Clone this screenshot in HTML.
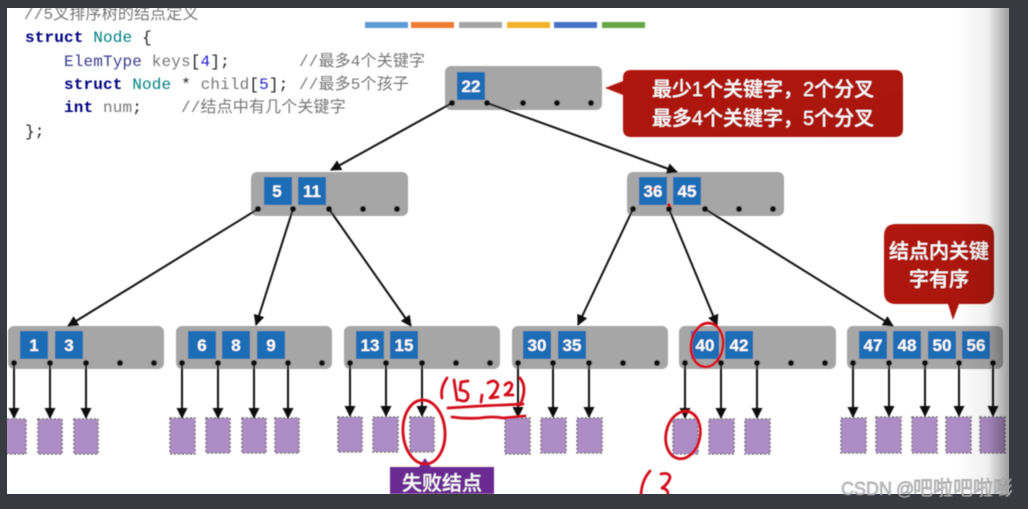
<!DOCTYPE html>
<html><head><meta charset="utf-8"><style>
html,body{margin:0;padding:0;background:#373b40;width:1028px;height:509px;overflow:hidden}
svg{display:block}
.k{font:bold 17px "Liberation Sans",sans-serif;fill:#fff;text-anchor:middle}
.c{font:16px "Liberation Mono","Noto Sans CJK SC",monospace;fill:#777;letter-spacing:.15px}
.b{fill:#000080;font-weight:bold}.t{fill:#008080}.e{fill:#3a3a8c}.d{fill:#222}.n{fill:#2222cc}
.w{font:500 20px "Liberation Sans","Noto Sans CJK SC",sans-serif;fill:#fff;text-anchor:middle}
.g{fill:#a6a6a6}.q{fill:#1b6db5}
.f{fill:#ae8dc6;stroke:#777;stroke-width:1.6;stroke-dasharray:2 2}
.a{stroke:#111;stroke-width:2;fill:none;marker-end:url(#m)}
.h{fill:none;stroke:#d3101a;stroke-width:2.8;stroke-linecap:round;stroke-linejoin:round}
</style></head><body>
<svg width="1028" height="509" viewBox="0 0 1028 509" xmlns="http://www.w3.org/2000/svg">
<defs>
<filter id="bl" x="-2%" y="-2%" width="104%" height="104%"><feGaussianBlur stdDeviation="0.55"/></filter>
<marker id="m" markerUnits="userSpaceOnUse" markerWidth="12" markerHeight="12" refX="10" refY="5.5" orient="auto"><path d="M0 0L11 5.5L0 11Z" fill="#111"/></marker>
<linearGradient id="sh" x1="0" x2="1" y1="0" y2="0"><stop offset="0" stop-color="#000" stop-opacity="0"/><stop offset=".6" stop-color="#000" stop-opacity=".06"/><stop offset="1" stop-color="#000" stop-opacity=".38"/></linearGradient>
<linearGradient id="red" x1="0" x2="1" y1="0" y2="1"><stop offset="0" stop-color="#b01a0a"/><stop offset="1" stop-color="#a8140a"/></linearGradient>
<clipPath id="pg"><rect x="7" y="8" width="1002" height="486"/></clipPath>
</defs>
<rect width="1028" height="509" fill="#373b40"/>
<g clip-path="url(#pg)">
<rect x="7" y="8" width="1002" height="486" fill="#fff"/>
<g filter="url(#bl)">
<!-- top bars -->
<rect x="365" y="22" width="43" height="6" fill="#5b9bd5"/>
<rect x="411" y="22" width="43" height="6" fill="#ed7d31"/>
<rect x="459" y="22" width="43" height="6" fill="#a5a5a5"/>
<rect x="507" y="22" width="43" height="6" fill="#f2b32a"/>
<rect x="554" y="22" width="43" height="6" fill="#4472c4"/>
<rect x="602" y="22" width="43" height="6" fill="#63a845"/>
<!-- code -->
<text class="c" x="24" y="19" xml:space="preserve" font-style="italic">//5叉排序树的结点定义</text>
<text class="c" x="25" y="42" xml:space="preserve"><tspan class="b">struct</tspan> <tspan class="t">Node</tspan> <tspan class="d">{</tspan></text>
<text class="c" x="64" y="66" xml:space="preserve"><tspan class="e">ElemType</tspan> keys<tspan class="d">[</tspan><tspan class="n">4</tspan><tspan class="d">];</tspan></text>
<text class="c" x="299" y="66" xml:space="preserve">//最多4个关键字</text>
<text class="c" x="64" y="89" xml:space="preserve"><tspan class="b">struct</tspan> <tspan class="t">Node</tspan> <tspan class="d">*</tspan> child<tspan class="d">[</tspan><tspan class="n">5</tspan><tspan class="d">];</tspan></text>
<text class="c" x="299" y="89" xml:space="preserve">//最多5个孩子</text>
<text class="c" x="64" y="112" xml:space="preserve"><tspan class="b">int</tspan> num<tspan class="d">;</tspan></text>
<text class="c" x="181" y="112" xml:space="preserve">//结点中有几个关键字</text>
<text class="c" x="25" y="136" xml:space="preserve"><tspan class="d">};</tspan></text>
<!-- nodes -->
<rect class="g" x="445" y="66" width="157" height="44" rx="6"/>
<rect class="g" x="251" y="172" width="157" height="44" rx="6"/>
<rect class="g" x="627" y="172" width="157" height="44" rx="6"/>
<rect class="g" x="8" y="326" width="156" height="43" rx="6"/>
<rect class="g" x="176" y="326" width="156" height="43" rx="6"/>
<rect class="g" x="344" y="326" width="156" height="43" rx="6"/>
<rect class="g" x="512" y="326" width="156" height="43" rx="6"/>
<rect class="g" x="679" y="326" width="157" height="43" rx="6"/>
<rect class="g" x="847" y="326" width="156" height="43" rx="6"/>
<!-- keys -->
<g>
<rect class="q" x="457" y="72" width="28" height="28"/>
<rect class="q" x="264" y="177" width="28" height="28"/><rect class="q" x="298" y="177" width="28" height="28"/>
<rect class="q" x="639" y="177" width="28" height="28"/><rect class="q" x="673" y="177" width="28" height="28"/>
<rect class="q" x="20" y="331" width="28" height="28"/><rect class="q" x="55" y="331" width="28" height="28"/>
<rect class="q" x="188" y="331" width="28" height="28"/><rect class="q" x="222" y="331" width="28" height="28"/><rect class="q" x="257" y="331" width="28" height="28"/>
<rect class="q" x="356" y="331" width="28" height="28"/><rect class="q" x="390" y="331" width="28" height="28"/>
<rect class="q" x="523" y="331" width="28" height="28"/><rect class="q" x="558" y="331" width="28" height="28"/>
<rect class="q" x="691" y="331" width="28" height="28"/><rect class="q" x="725" y="331" width="28" height="28"/>
<rect class="q" x="859" y="331" width="28" height="28"/><rect class="q" x="893" y="331" width="28" height="28"/><rect class="q" x="928" y="331" width="28" height="28"/><rect class="q" x="962" y="331" width="28" height="28"/>
</g>
<text class="k" x="471" y="92">22</text>
<text class="k" x="277" y="197">5</text><text class="k" x="312" y="197">11</text>
<text class="k" x="653" y="197">36</text><text class="k" x="687" y="197">45</text>
<text class="k" x="34" y="351">1</text><text class="k" x="69" y="351">3</text>
<text class="k" x="202" y="351">6</text><text class="k" x="236" y="351">8</text><text class="k" x="271" y="351">9</text>
<text class="k" x="370" y="351">13</text><text class="k" x="404" y="351">15</text>
<text class="k" x="537" y="351">30</text><text class="k" x="572" y="351">35</text>
<text class="k" x="705" y="351">40</text><text class="k" x="739" y="351">42</text>
<text class="k" x="873" y="351">47</text><text class="k" x="907" y="351">48</text><text class="k" x="942" y="351">50</text><text class="k" x="976" y="351">56</text>
<!-- leaves -->
<rect class="f" x="3" y="419" width="23" height="35"/><rect class="f" x="38" y="419" width="24" height="35"/><rect class="f" x="74" y="419" width="24" height="35"/>
<rect class="f" x="170" y="418" width="25" height="36"/><rect class="f" x="206" y="418" width="24" height="35"/><rect class="f" x="242" y="418" width="24" height="35"/><rect class="f" x="275" y="418" width="24" height="35"/>
<rect class="f" x="338" y="417" width="24" height="35"/><rect class="f" x="373" y="417" width="25" height="35"/><rect class="f" x="410" y="417" width="24" height="35"/>
<rect class="f" x="505" y="418" width="25" height="36"/><rect class="f" x="541" y="418" width="25" height="35"/><rect class="f" x="577" y="418" width="25" height="35"/>
<rect class="f" x="673" y="419" width="25" height="35"/><rect class="f" x="709" y="419" width="25" height="35"/><rect class="f" x="745" y="419" width="25" height="35"/>
<rect class="f" x="841" y="418" width="25" height="35"/><rect class="f" x="876" y="417" width="25" height="36"/><rect class="f" x="912" y="417" width="25" height="36"/><rect class="f" x="946" y="417" width="25" height="36"/><rect class="f" x="980" y="417" width="25" height="36"/>
<!-- tree edges -->
<path class="a" d="M452 103L331 170"/><path class="a" d="M487 103L677 172"/>
<path class="a" d="M258 209L68 326"/><path class="a" d="M293 209L256 325"/><path class="a" d="M329 209L411 326"/>
<path class="a" d="M633 209L578 325"/><path class="a" d="M669 209L717 325"/><path class="a" d="M705 209L893 326"/>
<!-- leaf edges -->
<path class="a" d="M14 363L14 418"/><path class="a" d="M50 363L50 418"/><path class="a" d="M86 363L86 418"/>
<path class="a" d="M182 363L182 418"/><path class="a" d="M218 363L218 418"/><path class="a" d="M254 363L254 418"/><path class="a" d="M288 363L288 418"/>
<path class="a" d="M350 363L350 416"/><path class="a" d="M386 363L386 416"/><path class="a" d="M422 363L422 416"/>
<path class="a" d="M518 363L518 417"/><path class="a" d="M553 363L553 417"/><path class="a" d="M589 363L589 417"/>
<path class="a" d="M685 363L685 418"/><path class="a" d="M721 363L721 418"/><path class="a" d="M757 363L757 418"/>
<path class="a" d="M853 363L853 417"/><path class="a" d="M889 363L889 416"/><path class="a" d="M925 363L925 416"/><path class="a" d="M959 363L959 416"/><path class="a" d="M993 363L993 416"/>
<!-- dots -->
<g fill="#0a0a0a">
<circle cx="452" cy="103" r="3"/><circle cx="487" cy="103" r="3"/><circle cx="523" cy="103" r="3"/><circle cx="557" cy="103" r="3"/><circle cx="591" cy="103" r="3"/>
<circle cx="258" cy="209" r="3"/><circle cx="293" cy="209" r="3"/><circle cx="329" cy="209" r="3"/><circle cx="363" cy="209" r="3"/><circle cx="397" cy="209" r="3"/>
<circle cx="633" cy="209" r="3"/><circle cx="669" cy="209" r="3"/><circle cx="705" cy="209" r="3"/><circle cx="739" cy="209" r="3"/><circle cx="773" cy="209" r="3"/>
<circle cx="14" cy="363" r="3"/><circle cx="50" cy="363" r="3"/><circle cx="86" cy="363" r="3"/><circle cx="120" cy="363" r="3"/><circle cx="154" cy="363" r="3"/>
<circle cx="182" cy="363" r="3"/><circle cx="218" cy="363" r="3"/><circle cx="254" cy="363" r="3"/><circle cx="288" cy="363" r="3"/><circle cx="322" cy="363" r="3"/>
<circle cx="350" cy="363" r="3"/><circle cx="386" cy="363" r="3"/><circle cx="422" cy="363" r="3"/><circle cx="456" cy="363" r="3"/><circle cx="490" cy="363" r="3"/>
<circle cx="518" cy="363" r="3"/><circle cx="553" cy="363" r="3"/><circle cx="589" cy="363" r="3"/><circle cx="623" cy="363" r="3"/><circle cx="657" cy="363" r="3"/>
<circle cx="685" cy="363" r="3"/><circle cx="721" cy="363" r="3"/><circle cx="757" cy="363" r="3"/><circle cx="791" cy="363" r="3"/><circle cx="825" cy="363" r="3"/>
<circle cx="853" cy="363" r="3"/><circle cx="889" cy="363" r="3"/><circle cx="925" cy="363" r="3"/><circle cx="959" cy="363" r="3"/><circle cx="993" cy="363" r="3"/>
</g>
<!-- callouts -->
<path d="M631 70H895Q903 70 903 78V129Q903 137 895 137H631Q623 137 623 129V95L605 88L623 81V78Q623 70 631 70Z" fill="url(#red)"/>
<text class="w" x="763" y="96">最少1个关键字，2个分叉</text>
<text class="w" x="763" y="125">最多4个关键字，5个分叉</text>
<path d="M896 224H982Q994 224 994 236V292Q994 304 982 304H959L953 320L948 304H896Q884 304 884 292V236Q884 224 896 224Z" fill="url(#red)"/>
<text class="w" x="939" y="258">结点内关键</text>
<text class="w" x="939" y="286">字有序</text>
<path d="M425 458L431 467H494V494H390V467H419Z" fill="#6a2c91"/>
<text class="w" x="442" y="490" style="font-size:20px">失败结点</text>
<!-- handwriting -->
<ellipse class="h" cx="424" cy="432" rx="21" ry="32" transform="rotate(-4 424 432)"/>
<ellipse class="h" cx="707" cy="345" rx="16" ry="22" transform="rotate(8 707 345)"/>
<ellipse class="h" cx="683" cy="435" rx="17" ry="24" transform="rotate(12 683 435)"/>
<path class="h" d="M447 378Q440 388 442 398"/>
<path class="h" d="M454 380L457 400"/>
<path class="h" d="M468 381L461 382L460 390Q469 391 468 397Q467 403 459 400"/>
<path class="h" d="M482 395L481 402"/>
<path class="h" d="M488 383Q495 378 498 385Q497 391 490 398L498 397"/>
<path class="h" d="M505 385Q510 380 512 385Q511 391 505 395L513 395"/>
<path class="h" d="M520 378Q528 388 520 405"/>
<path class="h" d="M448 408Q465 407 480 406Q505 405 523 404"/>
<path class="h" d="M452 417Q465 419 480 418Q493 416 503 418Q515 417 525 416"/>
<path class="h" d="M650 471Q642 480 641 494"/>
<path class="h" d="M661 474Q670 472 670 478Q668 484 662 488Q668 489 668 494"/>
<path d="M652 188l2 2" stroke="#d3101a" stroke-width="2"/>
<circle cx="669" cy="205" r="1.8" fill="#d3101a"/>
</g>
<rect x="955" y="8" width="54" height="486" fill="url(#sh)"/>
</g>
<!-- watermark -->
<g filter="url(#bl)" font-family="'Liberation Sans','Noto Sans CJK SC',sans-serif" fill="#c9c9c9" stroke="#777" stroke-width=".4">
<text x="841" y="495" font-size="18">CSDN</text>
<text x="896" y="495" font-size="18">@</text>
<text x="913" y="495" font-size="20">吧啦吧啦嘭</text>
</g>
</svg>
</body></html>
